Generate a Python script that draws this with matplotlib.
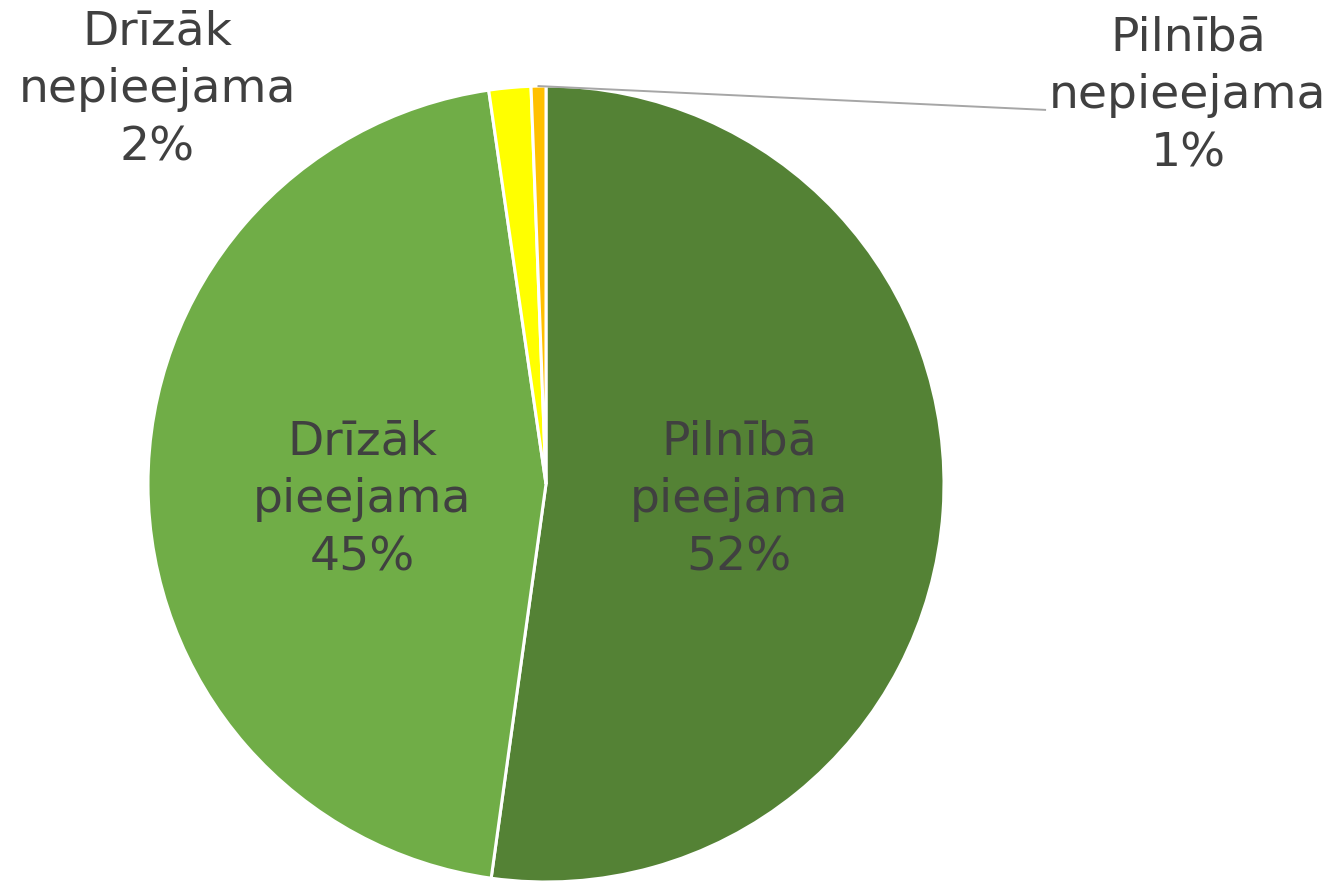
import numpy as np
import matplotlib
matplotlib.use('Agg')
import matplotlib.pyplot as plt

# slices, clockwise from 12 o'clock
labels = ['Pilnībā\npieejama', 'Drīzāk\npieejama', 'Drīzāk\nnepieejama', 'Pilnībā\nnepieejama']
shares = [52.2, 45.5, 1.7, 0.6]
pct_text = ['52%', '45%', '2%', '1%']
colors = ['#548235', '#70AD47', '#FFFF00', '#FFC000']

txt_color = '#404040'
fsize = 34
lsp = 1.36

fig = plt.figure(figsize=(13.34, 8.81), dpi=100)
ax = fig.add_axes([148/1334, -1/881, 796/1334, 796/881])

wedges, _ = ax.pie(shares, colors=colors, startangle=90, counterclock=False,
                   radius=1, wedgeprops=dict(edgecolor='white', linewidth=2.2))
ax.set_xlim(-1, 1)
ax.set_ylim(-1, 1)
ax.set_aspect('equal')
ax.axis('off')

# labels inside the two big slices
for i, (x, y) in enumerate([(0.485, -0.04), (-0.462, -0.04)]):
    ax.text(x, y, labels[i] + '\n' + pct_text[i], ha='center', va='center',
            fontsize=fsize, color=txt_color, linespacing=lsp)

# outside labels
ax.text(-0.977, 0.99, labels[2] + '\n' + pct_text[2], ha='center', va='center',
        fontsize=fsize, color=txt_color, linespacing=lsp, clip_on=False)
ax.text(1.613, 0.975, labels[3] + '\n' + pct_text[3], ha='center', va='center',
        fontsize=fsize, color=txt_color, linespacing=lsp, clip_on=False)

# leader line for the smallest slice
w = wedges[3]
mid = np.deg2rad((w.theta1 + w.theta2) / 2)
ax.plot([np.cos(mid), 1.254], [np.sin(mid), 0.94], color='#A6A6A6',
        linewidth=1.4, clip_on=False)

fig.savefig('out.png', dpi=100)
